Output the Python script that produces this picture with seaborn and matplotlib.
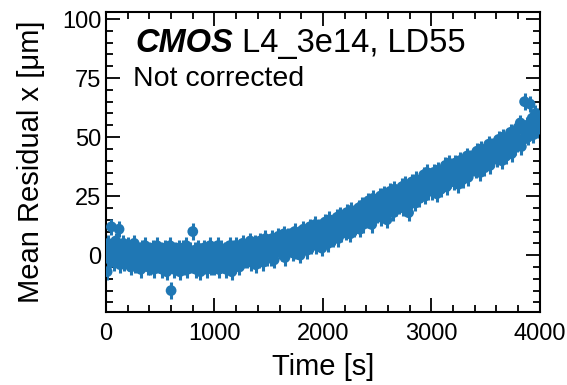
import numpy as np
import pandas as pd
import matplotlib
matplotlib.use("Agg")
import matplotlib.pyplot as plt
import seaborn as sns
from matplotlib.ticker import MultipleLocator

# ---- data ----
time_s = list(range(0, 4001, 10))
residual_um = [
    3, -7, 5, 0, -2, 12, 4, -3, 2, 6,
    -1, 4, 11, -4, 2, 0, 5, -3, 3, -2,
    4, -3, 1, -5, 3, -1, 5, -4, 0, 2,
    -4, 2, -6, 3, 0, -3, 4, -2, 1, -5,
    2, -5, -1, 3, -6, 0, -3, 4, -4, 1,
    -4, 2, -6, 0, 3, -3, -7, 1, -2, 4,
    -15, -4, 1, -6, 2, -3, -1, 3, -7, 0,
    -3, 3, -5, 0, 4, -6, -1, 2, -4, 1,
    10, -4, 2, -6, 0, 3, -3, -7, 1, -2,
    3, -4, 0, -6, 2, -2, 4, -5, 1, -3,
    -5, 2, -2, 4, -6, 0, 3, -4, 1, -3,
    2, -6, 1, -3, 4, -1, -7, 3, 0, -4,
    4, -3, 1, -5, 3, -1, 5, -2, 0, 2,
    -2, 4, 0, 6, -3, 2, -1, 5, -4, 3,
    3, -2, 6, 0, 4, -3, 2, 7, -1, 1,
    0, 5, -1, 7, 2, -2, 6, 1, 4, 8,
    2, 7, 1, 5, 9, -1, 6, 3, 8, 4,
    3, 8, 1, 6, 10, 2, 7, 4, 9, 0,
    9, 3, 11, 5, 8, 2, 10, 6, 12, 4,
    5, 11, 7, 13, 4, 9, 12, 6, 10, 3,
    12, 6, 14, 8, 11, 5, 15, 9, 13, 7,
    8, 14, 10, 16, 7, 12, 17, 9, 13, 11,
    16, 10, 18, 12, 15, 9, 19, 13, 17, 11,
    12, 18, 14, 20, 11, 17, 21, 13, 16, 19,
    21, 15, 23, 17, 19, 13, 24, 16, 22, 18,
    17, 23, 19, 25, 16, 21, 26, 18, 22, 15,
    25, 19, 27, 21, 24, 18, 28, 20, 23, 26,
    21, 27, 23, 29, 20, 25, 30, 22, 26, 18,
    29, 23, 31, 25, 28, 22, 32, 26, 30, 24,
    26, 32, 28, 34, 25, 30, 35, 27, 31, 29,
    33, 27, 35, 29, 32, 26, 36, 30, 34, 28,
    30, 36, 31, 38, 29, 34, 39, 32, 35, 33,
    37, 31, 39, 33, 36, 30, 40, 34, 38, 32,
    34, 40, 35, 42, 33, 38, 41, 36, 39, 37,
    42, 36, 44, 38, 41, 35, 45, 39, 43, 37,
    39, 45, 40, 47, 38, 43, 46, 41, 44, 42,
    47, 41, 49, 43, 46, 40, 50, 44, 48, 42,
    44, 50, 45, 52, 43, 48, 51, 46, 49, 47,
    54, 48, 56, 46, 53, 49, 65, 52, 55, 50,
    52, 64, 54, 58, 51, 57, 60, 53, 59, 56,
    57,
]
residual_err = 3.5

title_bold = "CMOS"
title_rest = " L4_3e14, LD55"
subtitle = "Not corrected"
xlabel = "Time [s]"
ylabel = "Mean Residual x [μm]"

df = pd.DataFrame({"time": time_s, "res": residual_um})

sns.set_theme(style="white")
plt.rcParams["font.family"] = ["Liberation Sans", "DejaVu Sans"]
for k in ["text.color", "axes.labelcolor", "xtick.color", "ytick.color",
          "axes.edgecolor"]:
    plt.rcParams[k] = "black"

fig = plt.figure(figsize=(5.67, 3.85), dpi=100)
ax = fig.add_axes([0.187, 0.19, 0.765, 0.779])

color = "#1f77b4"
ax.errorbar(df["time"], df["res"], yerr=residual_err, fmt="none",
            ecolor=color, elinewidth=2.2, capsize=0, zorder=2)
sns.scatterplot(data=df, x="time", y="res", ax=ax, color=color, s=60,
                edgecolor="none", linewidth=0, zorder=3, legend=False)

ax.set_xlim(0, 4000)
ax.set_ylim(-24, 103)
ax.xaxis.set_major_locator(MultipleLocator(1000))
ax.xaxis.set_minor_locator(MultipleLocator(200))
ax.yaxis.set_major_locator(MultipleLocator(25))
ax.yaxis.set_minor_locator(MultipleLocator(5))
ax.tick_params(which="both", direction="in", top=True, right=True,
               bottom=True, left=True, labelsize=17, width=1.3, color="black",
               labelcolor="black")
ax.tick_params(axis="x", which="major", pad=8)
ax.tick_params(which="major", length=10)
ax.tick_params(which="minor", length=5)
for s in ax.spines.values():
    s.set_linewidth(1.5)
    s.set_color("black")

ax.set_xlabel(xlabel, fontsize=21, labelpad=6)
ax.set_ylabel(ylabel, fontsize=21, labelpad=12)

ty = 0.866
tb = ax.text(0.067, ty, title_bold, transform=ax.transAxes, fontsize=23.5,
             fontweight="bold", fontstyle="italic", va="baseline", ha="left")
fig.canvas.draw()
bb = tb.get_window_extent()
x_end = ax.transAxes.inverted().transform((bb.x1, bb.y0))[0]
ax.text(x_end, ty, title_rest, transform=ax.transAxes, fontsize=23.5,
        va="baseline", ha="left")
ax.text(0.062, 0.752, subtitle, transform=ax.transAxes, fontsize=20.5,
        va="baseline", ha="left")

fig.savefig("out.png", dpi=100)
